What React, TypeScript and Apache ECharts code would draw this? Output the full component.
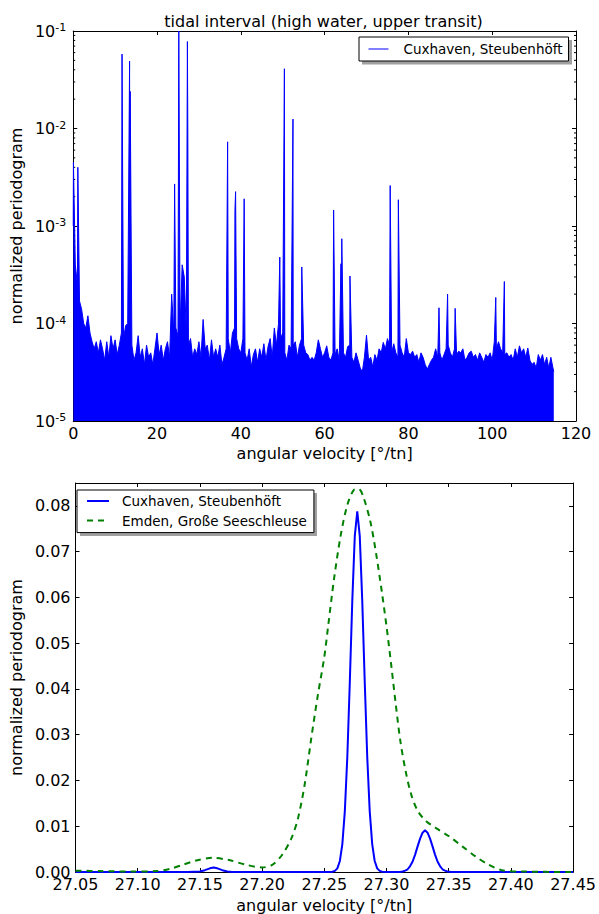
import React, { useEffect, useRef } from 'react';
import * as echarts from 'echarts';

const TITLE = 'tidal interval (high water, upper transit)';
const X_NAME = 'angular velocity [°/tn]';
const Y_NAME = 'normalized periodogram';
const CUX = 'Cuxhaven, Steubenhöft';
const EMDEN = 'Emden, Große Seeschleuse';
const FONT = 'DejaVu Sans';

// ---- top panel: periodogram (log scale) ----
// noise floor envelope, sampled every 0.5 °/tn starting at 0, in units of 1e-5
const noiseStep = 0.5;
const noiseUnit = 1e-5;
const noiseFloor = [
  100, 40, 25, 17, 14, 10, 9, 12, 8, 6.5, 5.5, 6.5, 5, 6.8, 5.5, 4.2, 6.5, 4.5, 7.5, 5.5,
  6.8, 4.8, 6, 8, 7, 9.5, 10, 12, 6, 4.2, 5, 7.5, 4.5, 5.5, 3.8, 6, 4.5, 5, 3.8, 5.5,
  8, 4.8, 6, 4.2, 5.5, 6.5, 4.5, 20, 8, 9, 7.5, 9, 40, 30, 8, 6, 7, 4.5, 5.5, 4.8,
  6.5, 4.5, 11, 5.5, 6, 4.2, 6.8, 4.5, 5.5, 4.5, 6, 3.8, 4.5, 5.5, 7, 5, 8, 9, 7, 5.5,
  5, 7, 5, 4.2, 5.5, 3.6, 4.8, 5.5, 4, 5.5, 4.5, 6.2, 4.2, 5.8, 7, 4.5, 9, 6, 10, 7,
  8, 5, 4.2, 6, 5.5, 6, 6.5, 4.5, 6, 7, 6, 5, 4.8, 4.2, 4.5, 4.2, 5, 6.8, 5.5, 4.5,
  5, 5.9, 4.5, 4.2, 5, 4.8, 5.5, 4.2, 5.5, 5, 4.5, 5.8, 6, 4.5, 4, 5, 4.2, 3.5, 3.2, 4.5,
  7.6, 4.2, 4.5, 3.6, 4.8, 4.2, 5.5, 5, 6.4, 5.5, 7, 6, 5, 6.2, 5, 4.5, 6, 5, 4.5, 7,
  5, 4.8, 5.2, 4.5, 4.8, 4, 5, 4.5, 3.8, 3.4, 3.8, 4.2, 4.5, 5.5, 4.5, 5, 4.2, 4.8, 5.5, 6,
  5, 4.5, 5.5, 4.8, 5.2, 5, 5.5, 4.2, 4.5, 5, 5.2, 4.5, 4.8, 4.2, 5, 4.5, 4, 4.8, 4.5, 5,
  4.2, 6.5, 5.5, 6.5, 5.5, 5, 4.8, 5, 4.5, 4.8, 4.2, 5.5, 4.5, 5.9, 5, 5.5, 4.5, 5.6, 4.2, 3.8,
  4, 3.5, 4.8, 4.2, 4.8, 3.8, 4.5, 3.5, 4.5, 3.5,
];
// tidal constituent lines: [angular velocity, periodogram]
const peakX = [0.05, 1.1, 11.65, 13.45, 13.6, 24.2, 25.2, 27.25, 27.35, 36.85, 38.6, 38.75, 40.8,
  49.3, 50.4, 52.45, 54.55, 62.15, 63.9, 64.1, 66.05, 75.65, 77.6, 87.3, 89.35, 91.15, 100.85, 102.9];
const peakY = [4.5e-3, 4.0e-3, 0.058, 0.049, 0.024, 2.7e-3, 0.1, 0.078, 9.3e-3, 7.3e-3, 1.45e-3, 2.25e-3, 1.9e-3,
  4.8e-4, 0.041, 0.0125, 3.8e-4, 1.46e-3, 4.1e-4, 7.4e-4, 3.07e-4, 2.6e-3, 1.86e-3, 1.45e-4, 2.0e-4, 1.43e-4, 1.85e-4, 2.7e-4];
const noiseEnd = 114.7;
const noiseEndValue = 3.2e-5;
const topXMin = 0, topXMax = 120, topXInterval = 20;
const topYMin = 1e-5, topYMax = 1e-1;
const minorDecades = [1e-5, 1e-4, 1e-3, 1e-2];
const minorMultipliers = [2, 3, 4, 5, 6, 7, 8, 9];

// ---- bottom panel: zoom around 27.28 °/tn (linear scale) ----
const cuxX = [27.05, 27.14, 27.15, 27.154, 27.158, 27.161, 27.164, 27.168, 27.172, 27.176, 27.254,
  27.2565, 27.2585, 27.2605, 27.2625, 27.2645, 27.2665, 27.2685, 27.2705, 27.2725, 27.2745, 27.2765,
  27.2785, 27.2805, 27.2825, 27.2845, 27.2865, 27.2885, 27.2905, 27.2925, 27.2945, 27.2965, 27.30,
  27.311, 27.313, 27.315, 27.317, 27.319, 27.321, 27.323, 27.325, 27.327, 27.329, 27.331,
  27.333, 27.335, 27.337, 27.339, 27.341, 27.343, 27.345, 27.347, 27.349, 27.352, 27.45];
const cuxY = [0, 0, 0.0001, 0.0004, 0.0008, 0.001, 0.0008, 0.0004, 0.0001, 0, 0,
  0.00006, 0.00024, 0.0008, 0.0024, 0.0061, 0.0133, 0.0252, 0.0415, 0.0593, 0.0734, 0.0788,
  0.0734, 0.0593, 0.0415, 0.0252, 0.0133, 0.0061, 0.0024, 0.0008, 0.00024, 0.00006, 0,
  0, 0.0001, 0.0003, 0.0006, 0.0013, 0.0023, 0.0038, 0.0056, 0.0073, 0.0086, 0.0091,
  0.0086, 0.0073, 0.0056, 0.0038, 0.0023, 0.0013, 0.0006, 0.0003, 0.0001, 0, 0];
const emdenX = [27.05, 27.07, 27.095, 27.115, 27.126, 27.1365, 27.147, 27.16, 27.1735, 27.1867, 27.2,
  27.2078, 27.2157, 27.2236, 27.2289, 27.2342, 27.2394, 27.2447, 27.25, 27.2532, 27.2579, 27.2632,
  27.2685, 27.2738, 27.2777, 27.2817, 27.287, 27.2918, 27.2962, 27.3002, 27.3041, 27.3075, 27.3112,
  27.3154, 27.3199, 27.3252, 27.3319, 27.3398, 27.3503, 27.3609, 27.3715, 27.382, 27.3925, 27.41, 27.45];
const emdenY = [0.0003, 0.0002, 0.0001, 0.0002, 0.0007, 0.0016, 0.0025, 0.0031, 0.0026, 0.0016, 0.0010,
  0.0015, 0.0036, 0.0074, 0.0118, 0.0191, 0.0290, 0.0385, 0.0470, 0.0540, 0.0642, 0.0736,
  0.0802, 0.0835, 0.0837, 0.0817, 0.0766, 0.0693, 0.0613, 0.0533, 0.0445, 0.0365, 0.0285,
  0.0220, 0.0169, 0.0133, 0.0111, 0.0096, 0.0078, 0.0056, 0.0034, 0.0016, 0.0004, 0.0001, 0.0];
const botXMin = 27.05, botXMax = 27.45, botXInterval = 0.05;
const botYMin = 0, botYMax = 0.085, botYInterval = 0.01;

function buildTopData(): [number, number][] {
  const pts: [number, number][] = noiseFloor.map((v, i) => [i * noiseStep, v * noiseUnit]);
  peakX.forEach((x, i) => pts.push([x, peakY[i]]));
  pts.push([noiseEnd, noiseEndValue]);
  pts.sort((a, b) => a[0] - b[0]);
  return pts;
}

const axisLine = { show: true, onZero: false, lineStyle: { color: '#000', width: 1 } };
const tick = { show: true, inside: true, length: 4, lineStyle: { color: '#000', width: 1 } };
const labelStyle = { color: '#000', fontSize: 16, fontFamily: FONT };
const nameStyle = { color: '#000', fontSize: 16, fontFamily: FONT };
const hiddenSymbol = { opacity: 0 };

export default function App() {
  const ref = useRef<HTMLDivElement>(null);
  useEffect(() => {
    if (!ref.current) return;
    const chart = echarts.init(ref.current, undefined, { renderer: 'svg' });
    const minorVals: [number, number][] = [];
    minorDecades.forEach((d) => minorMultipliers.forEach((m) => minorVals.push([topXMin, d * m])));

    const option: any = {
      animation: false,
      backgroundColor: '#fff',
      textStyle: { fontFamily: FONT },
      grid: [
        { left: 71, top: 31, width: 505, height: 390 },
        { left: 71, top: 483, width: 505, height: 389 },
      ],
      xAxis: [
        {
          gridIndex: 0, type: 'value', min: topXMin, max: topXMax, interval: topXInterval, position: 'bottom',
          name: X_NAME, nameLocation: 'middle', nameGap: 24, nameTextStyle: nameStyle,
          axisLine, axisTick: tick, axisLabel: { ...labelStyle, margin: 4 }, splitLine: { show: false },
        },
        {
          gridIndex: 0, type: 'value', min: topXMin, max: topXMax, interval: topXInterval, position: 'top',
          axisLine, axisTick: tick, axisLabel: { show: false }, splitLine: { show: false },
        },
        {
          gridIndex: 1, type: 'value', min: botXMin, max: botXMax, interval: botXInterval, position: 'bottom',
          name: X_NAME, nameLocation: 'middle', nameGap: 25, nameTextStyle: nameStyle,
          axisLine, axisTick: tick,
          axisLabel: { ...labelStyle, margin: 4, formatter: (v: number) => v.toFixed(2) },
          splitLine: { show: false },
        },
        {
          gridIndex: 1, type: 'value', min: botXMin, max: botXMax, interval: botXInterval, position: 'top',
          axisLine, axisTick: tick, axisLabel: { show: false }, splitLine: { show: false },
        },
      ],
      yAxis: [
        {
          gridIndex: 0, type: 'log', logBase: 10, min: topYMin, max: topYMax, position: 'left',
          name: Y_NAME, nameLocation: 'middle', nameGap: 45, nameRotate: 90, nameTextStyle: nameStyle,
          axisLine, axisTick: tick, splitLine: { show: false },
          axisLabel: {
            ...labelStyle, margin: 7,
            formatter: (v: number) => `{b|10}{s|${Math.round(Math.log10(v))}}`,
            rich: {
              b: { fontSize: 16, fontFamily: FONT, color: '#000', lineHeight: 18 },
              s: { fontSize: 11, fontFamily: FONT, color: '#000', verticalAlign: 'top', lineHeight: 11 },
            },
          },
        },
        {
          gridIndex: 0, type: 'log', logBase: 10, min: topYMin, max: topYMax, position: 'right',
          axisLine, axisTick: tick, axisLabel: { show: false }, splitLine: { show: false },
        },
        {
          gridIndex: 1, type: 'value', min: botYMin, max: botYMax, interval: botYInterval, position: 'left',
          name: Y_NAME, nameLocation: 'middle', nameGap: 45, nameRotate: 90, nameTextStyle: nameStyle,
          axisLine, axisTick: tick, splitLine: { show: false },
          axisLabel: { ...labelStyle, margin: 5, formatter: (v: number) => v.toFixed(2), showMaxLabel: false },
        },
        {
          gridIndex: 1, type: 'value', min: botYMin, max: botYMax, interval: botYInterval, position: 'right',
          axisLine, axisTick: tick, axisLabel: { show: false }, splitLine: { show: false },
        },
      ],
      legend: [
        {
          data: [{ name: 'cuxTop', lineStyle: { color: '#0000ff', width: 1 }, itemStyle: hiddenSymbol }],
          left: 359, top: 37, orient: 'vertical', padding: [5, 6, 5, 9],
          itemWidth: 20, itemHeight: 14, backgroundColor: '#fff', borderColor: '#000', borderWidth: 1,
          borderRadius: 0, selectedMode: false,
          formatter: () => `{t|${CUX}}`,
          textStyle: { fontSize: 13.5, color: '#000', fontFamily: FONT,
            rich: { t: { fontSize: 13.5, color: '#000', fontFamily: FONT, padding: [0, 0, 0, 10], lineHeight: 14 } } },
        },
        {
          data: [
            { name: 'cuxBottom', lineStyle: { color: '#0000ff', width: 2 }, itemStyle: hiddenSymbol },
            { name: 'emden', lineStyle: { color: '#008000', width: 2, type: [6, 5] }, itemStyle: hiddenSymbol },
          ],
          left: 77, top: 490, orient: 'vertical', padding: [4, 7, 5, 9], itemGap: 5.6,
          itemWidth: 22, itemHeight: 14, backgroundColor: '#fff', borderColor: '#000', borderWidth: 1,
          borderRadius: 0, selectedMode: false,
          formatter: (n: string) => `{t|${n === 'emden' ? EMDEN : CUX}}`,
          textStyle: { fontSize: 13.5, color: '#000', fontFamily: FONT,
            rich: { t: { fontSize: 13.5, color: '#000', fontFamily: FONT, padding: [0, 0, 0, 8], lineHeight: 14 } } },
        },
      ],
      graphic: [
        { type: 'rect', z: -10, shape: { x: 362, y: 40, width: 210, height: 24.5 }, style: { fill: '#a0a0a0' } },
        { type: 'rect', z: -10, shape: { x: 80, y: 493, width: 237, height: 43 }, style: { fill: '#a0a0a0' } },
        {
          type: 'text', x: 323.5, y: 21,
          style: { text: TITLE, fontSize: 16, fontFamily: FONT, fill: '#000', align: 'center', verticalAlign: 'middle' },
        },
      ],
      series: [
        {
          name: 'cuxTop', type: 'line', xAxisIndex: 0, yAxisIndex: 0, data: buildTopData(),
          showSymbol: false, symbol: 'none', clip: true, lineStyle: { color: '#0000ff', width: 1 },
          areaStyle: { color: '#0000ff', opacity: 1, origin: 'start' },
          itemStyle: { color: '#0000ff' }, silent: true,
        },
        {
          type: 'custom', xAxisIndex: 0, yAxisIndex: 0, data: minorVals, encode: { x: 0, y: 1 }, silent: true,
          renderItem: (_p: any, api: any) => {
            const v = api.value(1);
            const l = api.coord([topXMin, v]);
            const r = api.coord([topXMax, v]);
            return {
              type: 'group',
              children: [
                { type: 'line', shape: { x1: l[0], y1: l[1], x2: l[0] + 2, y2: l[1] }, style: { stroke: '#000', lineWidth: 1 } },
                { type: 'line', shape: { x1: r[0] - 2, y1: r[1], x2: r[0], y2: r[1] }, style: { stroke: '#000', lineWidth: 1 } },
              ],
            };
          },
        },
        {
          name: 'cuxBottom', type: 'line', xAxisIndex: 2, yAxisIndex: 2,
          data: cuxX.map((x, i) => [x, cuxY[i]]),
          showSymbol: false, symbol: 'none', lineStyle: { color: '#0000ff', width: 2 }, itemStyle: { color: '#0000ff' },
          silent: true,
        },
        {
          name: 'emden', type: 'line', xAxisIndex: 2, yAxisIndex: 2,
          data: emdenX.map((x, i) => [x, emdenY[i]]), smooth: 0.3,
          showSymbol: false, symbol: 'none', lineStyle: { color: '#008000', width: 2, type: [6, 5] },
          itemStyle: { color: '#008000' }, silent: true,
        },
      ],
    };
    chart.setOption(option);
    return () => chart.dispose();
  }, []);
  return (
    <div
      ref={ref}
      style={{ position: 'absolute', left: 0, top: 0, width: 599, height: 914, background: '#fff' }}
    />
  );
}
